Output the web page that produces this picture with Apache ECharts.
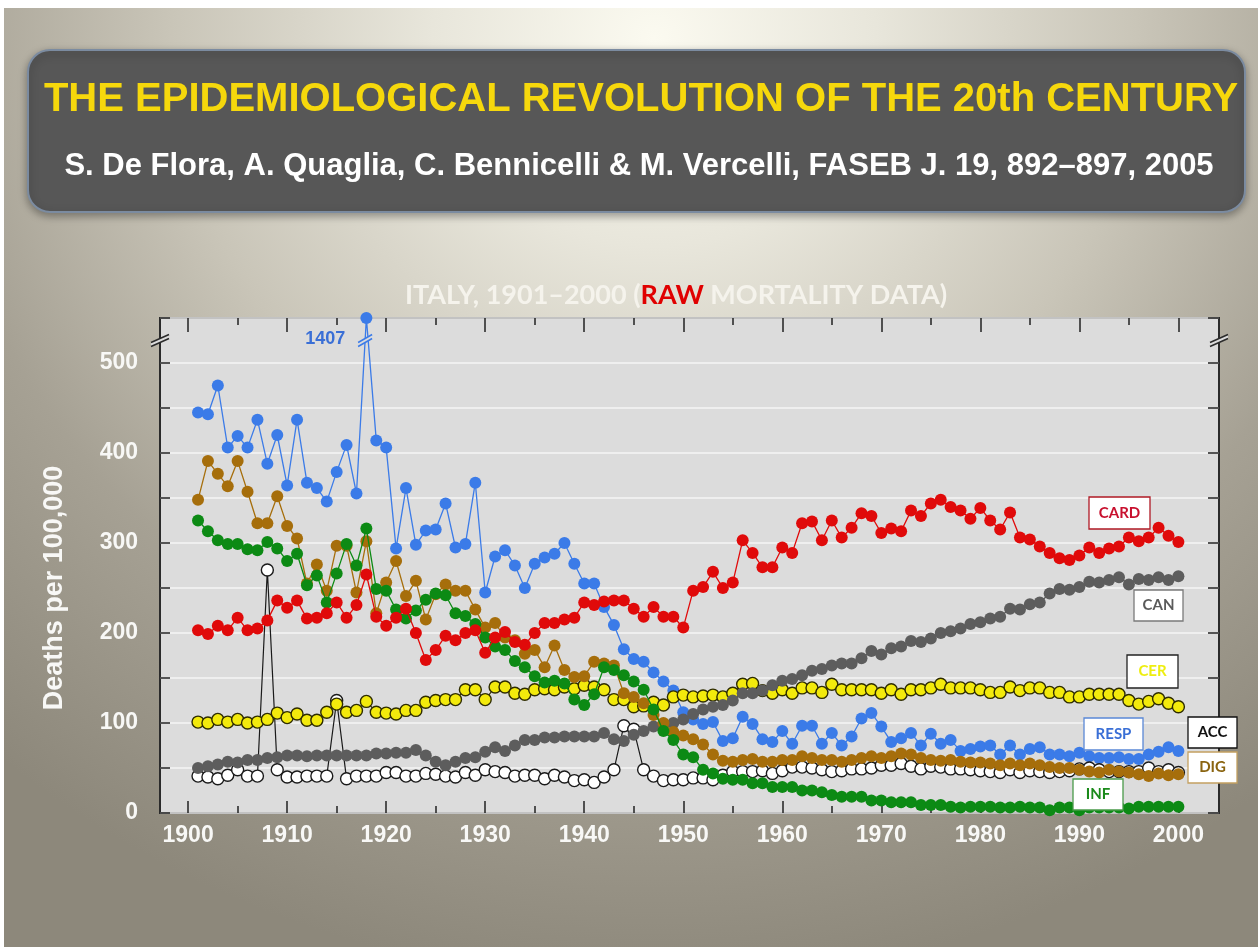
<!DOCTYPE html>
<html>
<head>
<meta charset="utf-8">
<script src="https://cdn.jsdelivr.net/npm/echarts@6/dist/echarts.min.js"></script>
<style>
html,body{margin:0;padding:0;width:1258px;height:947px;overflow:hidden;}
body{background:radial-gradient(ellipse 80% 100% at 52% 4%, #fbfaf0 0%, #e8e6db 22%, #c9c5b8 48%, #a6a194 72%, #8d887b 100%);}
#chart{position:absolute;left:0;top:0;width:1258px;height:947px;}
#topstrip{position:absolute;left:0;top:0;width:1258px;height:8px;background:#fff;z-index:5;}
#leftstrip{position:absolute;left:0;top:0;width:4px;height:947px;background:#fff;z-index:5;}
</style>
</head>
<body>
<div id="chart"></div>
<div id="topstrip"></div><div id="leftstrip"></div>
<script>
// ---------------- DATA ----------------
const START_YEAR = 1901;
const years = Array.from({length: 100}, (_, i) => START_YEAR + i);
const xTickLabels = [1900, 1910, 1920, 1930, 1940, 1950, 1960, 1970, 1980, 1990, 2000];
const xMinorTicks = [1905, 1915, 1925, 1935, 1945, 1955, 1965, 1975, 1985, 1995];
const yTickLabels = [0, 100, 200, 300, 400, 500];

const RESP = [445,443,475,406,419,406,437,388,420,364, 437,367,361,346,379,409,355,1407,414,406,
              294,361,298,314,315,344,295,299,367,245, 285,292,275,250,277,284,288,300,277,255,
              255,229,209,182,171,168,156,146,136,112, 104,99,101,80,83,107,99,82,79,91,
              77,97,97,77,89,75,85,105,111,96, 79,83,89,75,88,77,81,69,71,74,
              75,65,75,65,71,73,65,65,63,67, 63,61,61,62,60,60,65,68,73,69];
const CARD = [203,199,208,203,217,203,205,214,236,228, 236,216,217,222,234,217,231,265,218,208,
              217,227,200,170,181,197,192,200,203,178, 195,201,190,187,200,211,211,215,217,234,
              231,235,236,236,227,218,229,218,218,206, 247,251,268,250,256,303,289,273,273,295,
              289,322,324,303,325,306,317,333,330,311, 316,313,336,330,344,348,340,336,327,339,
              325,315,334,306,304,296,289,283,281,286, 295,289,294,296,306,302,306,317,308,301];
const DIG  = [348,391,377,363,391,357,322,322,352,319, 305,255,276,247,297,297,245,302,222,256,
              280,241,258,215,243,254,247,247,226,206, 211,195,192,177,181,162,186,159,151,152,
              168,166,164,133,129,122,109,100,90,86, 82,76,65,58,57,59,60,57,57,59,
              59,63,61,59,59,57,59,61,63,61, 63,66,65,61,59,58,59,57,56,56,
              55,53,55,53,55,53,51,50,50,48, 46,45,48,46,45,43,41,44,42,43];
const INF  = [325,313,303,299,299,293,292,301,294,280, 288,253,264,234,266,299,275,316,249,247,
              226,216,225,237,244,242,222,219,210,195, 185,181,169,162,152,145,147,144,126,120,
              132,162,159,153,146,137,115,91,81,65, 62,48,44,38,37,37,33,33,29,29,
              29,25,25,23,20,18,18,18,14,14, 12,12,12,9,9,9,7,6,7,7,
              7,6,6,7,6,6,3,6,6,3, 6,6,6,6,5,7,7,7,7,7];
const CER  = [101,100,104,101,104,100,101,104,111,106, 110,103,103,112,121,112,114,124,112,111,
              110,114,114,123,125,126,126,137,137,126, 140,140,133,132,137,138,137,140,138,142,
              140,137,126,126,118,119,123,120,129,131, 129,130,131,129,133,143,144,136,133,137,
              133,139,139,134,143,137,137,137,137,133, 137,132,137,137,139,143,139,139,139,137,
              134,134,140,136,139,139,134,134,129,129, 132,132,132,132,125,121,124,127,122,118];
const CAN  = [50,52,54,57,56,59,59,61,62,64, 64,63,64,64,64,64,64,64,66,66,
              67,67,70,64,57,53,57,61,62,68, 73,69,75,81,81,84,84,85,85,85,
              85,89,82,80,87,91,96,98,100,104, 110,115,118,120,125,133,133,136,142,147,
              149,153,158,160,164,166,166,172,180,176, 183,185,191,190,194,200,202,205,210,212,
              216,218,227,226,232,234,244,249,248,251, 257,256,259,262,254,260,259,262,259,263];
const ACC  = [41,40,38,42,48,41,41,270,48,40, 40,41,41,41,125,38,41,41,41,45,
              45,41,41,44,43,41,40,45,42,48, 46,45,41,42,42,38,42,40,36,37,
              34,40,48,97,93,48,41,36,37,37, 39,39,37,42,46,46,46,47,44,47,
              51,51,50,48,46,47,49,49,50,53, 53,55,52,49,52,51,49,49,48,47,
              46,45,48,45,47,46,45,46,47,49, 50,48,46,46,46,46,50,46,48,45];

const seriesNames = ['RESP', 'ACC', 'CER', 'CAN', 'DIG', 'INF', 'CARD'];
const seriesValues = {RESP, ACC, CER, CAN, DIG, INF, CARD};

// ---------------- STYLE ----------------
const X_MIN = 1897.16, X_MAX = 2004.1, Y_MIN = 0, Y_MAX = 550, Y_STEP = 50;
const styles = {
  RESP: {fill: '#3b7be8', border: '#3b7be8', line: '#3b7be8', lw: 1.3, z: 2},
  ACC:  {fill: '#ffffff', border: '#1a1a1a', line: '#1a1a1a', lw: 1.2, z: 3},
  CER:  {fill: '#f3ea0c', border: '#2e2c00', line: '#2e2c00', lw: 1.2, z: 4},
  CAN:  {fill: '#5d5d5d', border: '#5d5d5d', line: '#5d5d5d', lw: 1.3, z: 5},
  DIG:  {fill: '#a66e0b', border: '#a66e0b', line: '#a66e0b', lw: 1.3, z: 6},
  INF:  {fill: '#0c8a14', border: '#0c8a14', line: '#0c8a14', lw: 1.3, z: 7},
  CARD: {fill: '#e00a0a', border: '#e00a0a', line: '#e00a0a', lw: 1.3, z: 8}
};
const ARIAL = '"Liberation Sans", Arial, sans-serif';
const CAL = 'Lato, "Open Sans", sans-serif';

function buildSeries(name) {
  const st = styles[name];
  const vals = seriesValues[name];
  const data = years.map((yr, i) => {
    const v = vals[i];
    if (v > Y_MAX) {
      return {
        value: [yr, Y_MAX],
        label: {
          show: true, formatter: String(v), position: 'left', offset: [-10, 21],
          color: '#3a6fd6', fontFamily: ARIAL, fontWeight: 'bold', fontSize: 18
        }
      };
    }
    return [yr, v];
  });
  return {
    name, type: 'line', data, z: st.z, clip: name !== 'RESP',
    symbol: 'circle', symbolSize: 12, showSymbol: true,
    lineStyle: {color: st.line, width: st.lw},
    itemStyle: {color: st.fill, borderColor: st.border, borderWidth: name === 'CER' || name === 'ACC' ? 1.4 : 0},
    emphasis: {disabled: true},
    animation: false
  };
}

const tickStyle = {color: '#222', width: 1.5};
function xAxisDef(position, values, len, withLabels) {
  return {
    type: 'value', min: X_MIN, max: X_MAX, position,
    axisLine: {show: false}, splitLine: {show: false},
    axisTick: {show: true, inside: true, length: len, lineStyle: tickStyle, customValues: values},
    axisLabel: withLabels ? {
      show: true, customValues: values, formatter: v => String(Math.round(v)),
      color: '#f8f8f6', fontFamily: ARIAL, fontWeight: 'bold', fontSize: 23, margin: 11
    } : {show: false}
  };
}

const option = {
  backgroundColor: 'transparent',
  animation: false,
  grid: {
    left: 160, right: 39, top: 318, bottom: 134, show: true,
    backgroundColor: '#dcdcdc', borderColor: '#2b2b2b', borderWidth: 2
  },
  xAxis: [
    xAxisDef('bottom', xTickLabels, 12, true),
    xAxisDef('bottom', xMinorTicks, 7, false),
    xAxisDef('top', xTickLabels, 14, false),
    xAxisDef('top', xMinorTicks, 7, false)
  ],
  yAxis: [
    {
      type: 'value', min: Y_MIN, max: Y_MAX, interval: Y_STEP, position: 'left',
      axisLine: {show: false},
      axisTick: {show: true, inside: true, length: 10, lineStyle: tickStyle},
      splitLine: {show: true, lineStyle: {color: '#f6f6f6', width: 1.5}},
      axisLabel: {
        formatter: v => (yTickLabels.indexOf(v) >= 0 ? String(v) : ''),
        color: '#f8f8f6', fontFamily: ARIAL, fontWeight: 'bold', fontSize: 23, margin: 22
      }
    },
    {
      type: 'value', min: Y_MIN, max: Y_MAX, interval: Y_STEP, position: 'right',
      axisLine: {show: false}, splitLine: {show: false}, axisLabel: {show: false},
      axisTick: {show: true, inside: true, length: 11, lineStyle: tickStyle}
    }
  ],
  series: seriesNames.map(buildSeries)
};

const chart = echarts.init(document.getElementById('chart'), null, {renderer: 'canvas'});
chart.setOption(option);

// ---------------- DECORATION ----------------
const Z = 100;
function legendBox(text, x, y, w, h, textColor, borderColor) {
  return [
    {type: 'rect', z: Z, shape: {x, y, width: w, height: h},
     style: {fill: '#ffffff', stroke: borderColor, lineWidth: 1.3}},
    {type: 'text', z: Z + 1, x: x + w / 2, y: y + h / 2,
     style: {text, fill: textColor, stroke: null, lineWidth: 0, font: 'bold 15px ' + CAL,
             textAlign: 'center', textVerticalAlign: 'middle'}}
  ];
}
function breakMark(cx, cy, color, hw) {
  return [
    {type: 'polygon', z: Z, shape: {points: [[cx - hw, cy + 2], [cx + hw, cy - 6], [cx + hw, cy - 2], [cx - hw, cy + 6]]},
     style: {fill: '#dcdcdc', stroke: null}},
    {type: 'line', z: Z + 1, shape: {x1: cx - hw, y1: cy + 2, x2: cx + hw, y2: cy - 6}, style: {stroke: color, lineWidth: 1.5}},
    {type: 'line', z: Z + 1, shape: {x1: cx - hw, y1: cy + 6, x2: cx + hw, y2: cy - 2}, style: {stroke: color, lineWidth: 1.5}}
  ];
}

const BREAK_VALUE = 525;
const pl = chart.convertToPixel({gridIndex: 0}, [X_MIN, BREAK_VALUE]);
const pr = chart.convertToPixel({gridIndex: 0}, [X_MAX, BREAK_VALUE]);
const iPeak = RESP.indexOf(Math.max.apply(null, RESP));
const prevP = chart.convertToPixel({gridIndex: 0}, [years[iPeak - 1], RESP[iPeak - 1]]);
const peakP = chart.convertToPixel({gridIndex: 0}, [years[iPeak], Y_MAX]);
const tt = (BREAK_VALUE - RESP[iPeak - 1]) / (Y_MAX - RESP[iPeak - 1]);
const lbx = prevP[0] + (peakP[0] - prevP[0]) * tt;
const lby = prevP[1] + (peakP[1] - prevP[1]) * tt;

const elements = [
  {type: 'rect', z: 10, shape: {x: 28, y: 50, width: 1217, height: 162, r: 22},
   style: {fill: '#575757', stroke: '#7b8ba0', lineWidth: 2,
           shadowBlur: 8, shadowOffsetY: 3, shadowColor: 'rgba(0,0,0,0.35)'}},
  {type: 'text', z: 11, x: 641, y: 100,
   style: {text: 'THE EPIDEMIOLOGICAL REVOLUTION OF THE 20th CENTURY', fill: '#f6d80c', stroke: null, lineWidth: 0,
           font: 'bold 40px ' + ARIAL, textAlign: 'center', textVerticalAlign: 'middle'}},
  {type: 'text', z: 11, x: 639, y: 166,
   style: {text: 'S. De Flora, A. Quaglia, C. Bennicelli & M. Vercelli, FASEB J. 19, 892\u2013897, 2005',
           fill: '#ffffff', stroke: null, lineWidth: 0, font: 'bold 31px ' + ARIAL, textAlign: 'center', textVerticalAlign: 'middle'}},
  {type: 'text', z: 11, x: 676, y: 295,
   style: {rich: {w: {fill: '#f5f3ec', font: 'bold 27px ' + CAL}, r: {fill: '#e00000', font: 'bold 27px ' + CAL}},
           text: '{w|ITALY, 1901\u20132000 (}{r|RAW}{w| MORTALITY DATA)}', stroke: null, lineWidth: 0,
           textAlign: 'center', textVerticalAlign: 'middle'}},
  {type: 'text', z: 11, x: 55, y: 588, rotation: Math.PI / 2,
   style: {text: 'Deaths per 100,000', fill: '#f8f8f6', stroke: null, lineWidth: 0, font: 'bold 27px ' + ARIAL,
           textAlign: 'center', textVerticalAlign: 'middle'}}
].concat(
  legendBox('CARD', 1089, 497, 61, 32, '#c8102e', '#b01a25'),
  legendBox('CAN', 1134, 590, 49, 31, '#5a5a5a', '#7a7a7a'),
  legendBox('CER', 1127, 655, 51, 33, '#eeee10', '#222222'),
  legendBox('RESP', 1084, 718, 59, 32, '#3a6fd6', '#5a88d6'),
  legendBox('ACC', 1188, 717, 49, 31, '#111111', '#111111'),
  legendBox('DIG', 1188, 752, 49, 31, '#8a6410', '#c4a060'),
  legendBox('INF', 1073, 779, 50, 31, '#1a8a1a', '#4a9a4a'),
  breakMark(pl[0], pl[1], '#2b2b2b', 9),
  breakMark(pr[0], pr[1], '#2b2b2b', 9),
  breakMark(lbx, lby, '#3b7be8', 7)
);

chart.setOption({graphic: {elements}});
</script>
</body>
</html>
